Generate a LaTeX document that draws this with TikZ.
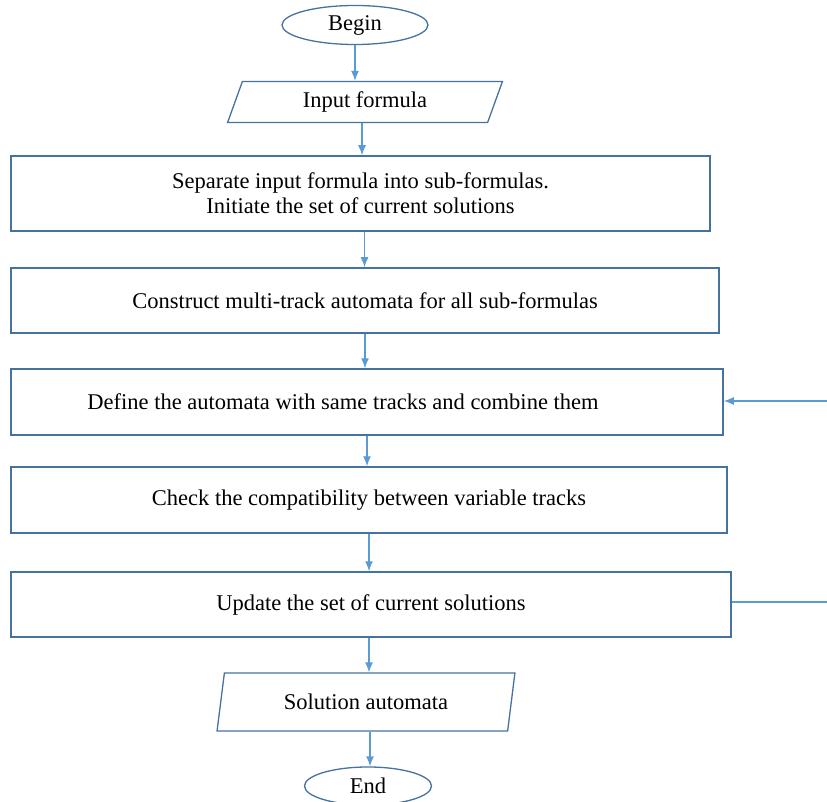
\documentclass[tikz,border=0pt]{standalone}
\usepackage{fontspec}
\setmainfont{Liberation Serif}
\usetikzlibrary{arrows.meta,calc,positioning,shapes.geometric}
\definecolor{boxblue}{RGB}{70,114,160}
\definecolor{arrowblue}{RGB}{91,155,213}
\tikzset{%
	terminal/.style = {draw=boxblue, line width=1.3pt, ellipse, inner sep=0pt, text centered},
	inout/.style    = {draw=boxblue, line width=1.3pt, trapezium, trapezium stretches=true, inner sep=0pt, text centered},
	process/.style  = {draw=boxblue, line width=1.5pt, rectangle, inner sep=0pt, align=center},
	arrow/.style    = {draw=arrowblue, line width=1.3pt, -{Latex[length=10pt,width=8pt]}},
	feed/.style     = {draw=arrowblue, line width=1.3pt},
}
\begin{document}
\begin{tikzpicture}[x=1pt,y=-1pt,font=\fontsize{22.5}{25}\selectfont]
		\useasboundingbox (0,0) rectangle (827,802);
		
		\node[terminal, minimum width=146pt, minimum height=39pt] (begin) at (355,25) {Begin};
		\node[inout, trapezium left angle=70, trapezium right angle=110, minimum width=275pt, minimum height=41pt] (input) at (365,102) {Input formula};
		\node[process, minimum width=699pt, minimum height=75pt] (separate) at (360.5,193.5) {Separate input formula into sub-formulas.\\ Initiate the set of current solutions};
		\node[process, minimum width=708pt, minimum height=65pt] (construct) at (365,300.5) {Construct multi-track automata for all sub-formulas};
		\node[process, minimum width=712pt, minimum height=66pt] (define) at (367,402) {Define the automata with same tracks and combine them\hspace*{48pt}};
		\node[process, minimum width=716pt, minimum height=66pt] (check) at (369,500) {Check the compatibility between variable tracks};
		\node[process, minimum width=720pt, minimum height=65pt] (update) at (371,604.5) {Update the set of current solutions};
		\node[inout, trapezium left angle=75, trapezium right angle=105, minimum width=298pt, minimum height=58pt] (output) at (366,702) {Solution automata};
		\node[terminal, minimum width=127pt, minimum height=38pt] (stop) at (368,786) {End};
		
		% arrow start points
		\coordinate (a1) at ($(input.south)+(-3,0)$);
		\coordinate (a2) at ($(separate.south)+(4,0)$);
		\coordinate (a3) at ($(update.south)+(-2,0)$);
		\coordinate (a4) at ($(output.south)+(4,0)$);
		\coordinate (loopin) at (827,401);
		\coordinate (loopout) at (827,602);
		
		\draw[arrow] (begin.south) -- (begin.south |- input.north);
		\draw[arrow] (a1) -- (a1 |- separate.north);
		\draw[arrow] (a2) -- (a2 |- construct.north);
		\draw[arrow] (construct.south) -- (construct.south |- define.north);
		\draw[arrow] (define.south) -- (define.south |- check.north);
		\draw[arrow] (check.south) -- (check.south |- update.north);
		\draw[arrow] (a3) -- (a3 |- output.north);
		\draw[arrow] (a4) -- (a4 |- stop.north);
		
		\draw[arrow] (loopin) -- (loopin -| define.east);
		\draw[feed] (update.east |- loopout) -- (loopout);
		\end{tikzpicture}
\end{document}
